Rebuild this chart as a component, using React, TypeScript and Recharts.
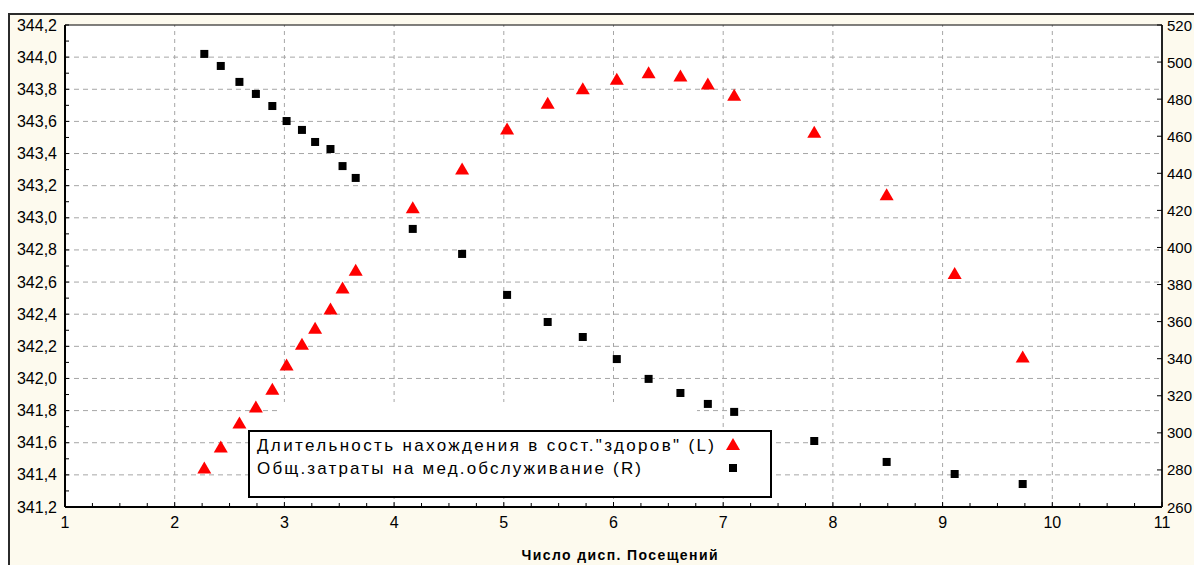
import {
  ScatterChart,
  Scatter,
  XAxis,
  YAxis,
  CartesianGrid,
  ReferenceLine,
  Legend,
} from "recharts";

// x: число диспансерных посещений
const visits = [
  2.27, 2.42, 2.59, 2.74, 2.89, 3.02, 3.16, 3.28, 3.42, 3.53, 3.65, 4.17, 4.62,
  5.03, 5.4, 5.72, 6.03, 6.32, 6.61, 6.86, 7.1, 7.83, 8.49, 9.11, 9.73,
];

// left axis (L)
const healthyTime = [
  341.44, 341.57, 341.72, 341.82, 341.93, 342.08, 342.21, 342.31, 342.43, 342.56,
  342.67, 343.06, 343.3, 343.55, 343.71, 343.8, 343.86, 343.9, 343.88, 343.83,
  343.76, 343.53, 343.14, 342.65, 342.13,
];

// right axis (R)
const careCost = [
  504.4, 497.9, 489.3, 482.8, 476.3, 468.2, 463.4, 456.9, 453.1, 443.9, 437.5,
  410.0, 396.5, 374.4, 359.8, 351.7, 339.8, 329.1, 321.5, 315.6, 311.3, 295.6,
  284.3, 277.8, 272.4,
];

const xTicks = Array.from({ length: 41 }, (_, i) => 1 + i * 0.25);
const leftTicks = Array.from({ length: 31 }, (_, i) => Math.round((341.2 + i * 0.1) * 10) / 10);
const rightTicks = [260, 280, 300, 320, 340, 360, 380, 400, 420, 440, 460, 480, 500, 520];
const gridX = [2, 3, 4, 5, 6, 7, 8, 9, 10];
const gridY = [341.4, 341.6, 341.8, 342.0, 342.2, 342.4, 342.6, 342.8, 343.0, 343.2, 343.4, 343.6, 343.8, 344.0];

const nameL = 'Длительность нахождения в сост."здоров" (L)';
const nameR = "Общ.затраты на мед.обслуживание (R)";

const healthyData = visits.map((x, i) => ({ x, y: healthyTime[i] }));
const costData = visits.map((x, i) => ({ x, y: careCost[i] }));

const FONT = "'Liberation Sans', Arial, sans-serif";

const triangle = (cx: number, cy: number) =>
  `${cx},${cy - 7} ${cx + 7},${cy + 5} ${cx - 7},${cy + 5}`;

const TriangleDot = (p: any) => <polygon points={triangle(p.cx, p.cy)} fill="#ff0000" />;
const SquareDot = (p: any) => (
  <rect x={p.cx - 4} y={p.cy - 4} width={8} height={8} fill="#000" />
);

const XTick = ({ x, y, payload }: any) => {
  const v = payload.value;
  const major = Math.abs(v - Math.round(v)) < 1e-6;
  return (
    <g>
      <line x1={x} x2={x} y1={y} y2={y - (major ? 5 : 4)} stroke="#000" />
      {major && (
        <text x={x} y={y + 15} textAnchor="middle" dominantBaseline="central" fontSize={16} fontFamily={FONT} fill="#000">
          {Math.round(v)}
        </text>
      )}
    </g>
  );
};

const LeftTick = ({ x, y, payload }: any) => {
  const v = payload.value;
  const major = Math.round(v * 10) % 2 === 0;
  return (
    <g>
      <line x1={x} x2={x + 4} y1={y} y2={y} stroke="#000" />
      {major && (
        <text x={x - 8} y={y} textAnchor="end" dominantBaseline="central" fontSize={16} fontFamily={FONT} fill="#000">
          {v.toFixed(1).replace(".", ",")}
        </text>
      )}
    </g>
  );
};

const RightTick = ({ x, y, payload }: any) => (
  <g>
    <line x1={x} x2={x - 5} y1={y} y2={y} stroke="#000" />
    <text x={x + 5} y={y} textAnchor="start" dominantBaseline="central" fontSize={15} fontFamily={FONT} fill="#000">
      {payload.value}
    </text>
  </g>
);

const AxisTitle = (props: any) => {
  const vb = props.viewBox || { x: 65, y: 507, width: 1097 };
  return (
    <text x={vb.x + vb.width / 2 + 6} y={vb.y + 48} textAnchor="middle" dominantBaseline="central" fontSize={14} fontWeight="bold" fontFamily={FONT} textLength={196} fill="#000">
      Число дисп. Посещений
    </text>
  );
};

const LegendBox = () => (
  <svg width={540} height={100} style={{ display: "block" }}>
    <rect x={38} y={2} width={419} height={32} fill="#ffffff" />
    <rect x={9} y={31} width={522} height={66} fill="#ffffff" stroke="#000" strokeWidth={2} />
    <text x={17} y={51} fontSize={17} fontFamily={FONT} textLength={457} fill="#000">
      {nameL}
    </text>
    <text x={17} y={74} fontSize={17} fontFamily={FONT} textLength={384} fill="#000">
      {nameR}
    </text>
    <polygon points={triangle(493, 45)} fill="#ff0000" />
    <rect x={489} y={64} width={8} height={8} fill="#000" />
  </svg>
);

export default function App() {
  return (
    <div style={{ position: "fixed", left: 0, top: 0, width: 1194, height: 565, background: "#fff", overflow: "hidden" }}>
      <div
        style={{
          position: "absolute",
          left: 8,
          top: 13,
          right: 0,
          bottom: 0,
          background: "#fdfaee",
          borderLeft: "2px solid #2b2b2b",
          borderTop: "2px solid #2b2b2b",
        }}
      />
      <div style={{ position: "absolute", left: 0, top: 0 }}>
        <ScatterChart width={1194} height={565} margin={{ top: 25, right: 0, bottom: 0, left: 15 }}>
          <CartesianGrid yAxisId="left" horizontal={false} vertical={false} fill="#ffffff" />
          <XAxis
            type="number"
            dataKey="x"
            domain={[1, 11]}
            ticks={xTicks}
            interval={0}
            allowDataOverflow
            height={58}
            tickSize={0}
            tickMargin={0}
            tickLine={false}
            tick={XTick}
            axisLine={{ stroke: "#000", strokeWidth: 2 }}
            label={AxisTitle}
          />
          <YAxis
            yAxisId="left"
            type="number"
            dataKey="y"
            domain={[341.2, 344.2]}
            ticks={leftTicks}
            interval={0}
            allowDataOverflow
            width={50}
            tickSize={0}
            tickMargin={0}
            tickLine={false}
            tick={LeftTick}
            axisLine={{ stroke: "#000", strokeWidth: 2 }}
          />
          <YAxis
            yAxisId="right"
            orientation="right"
            type="number"
            dataKey="y"
            domain={[260, 520]}
            ticks={rightTicks}
            interval={0}
            allowDataOverflow
            width={32}
            tickSize={0}
            tickMargin={0}
            tickLine={false}
            tick={RightTick}
            axisLine={{ stroke: "#222", strokeWidth: 2 }}
          />
          {gridY.map((v) => (
            <ReferenceLine key={"h" + v} yAxisId="left" y={v} stroke="#a6a6a6" strokeDasharray="5 4" />
          ))}
          {gridX.map((v) => (
            <ReferenceLine key={"v" + v} yAxisId="left" x={v} stroke="#a6a6a6" strokeDasharray="4 4" />
          ))}
          <ReferenceLine yAxisId="left" y={344.2} stroke="#000" ifOverflow="visible" />
          <Scatter
            name={nameL}
            data={healthyData}
            yAxisId="left"
            fill="#ff0000"
            shape={TriangleDot}
            isAnimationActive={false}
          />
          <Scatter
            name={nameR}
            data={costData}
            yAxisId="right"
            fill="#000"
            shape={SquareDot}
            isAnimationActive={false}
          />
          <Legend
            layout="horizontal"
            verticalAlign="middle"
            align="center"
            wrapperStyle={{ left: 240, top: 400, width: 540, height: 100 }}
            content={LegendBox}
          />
        </ScatterChart>
      </div>
    </div>
  );
}
